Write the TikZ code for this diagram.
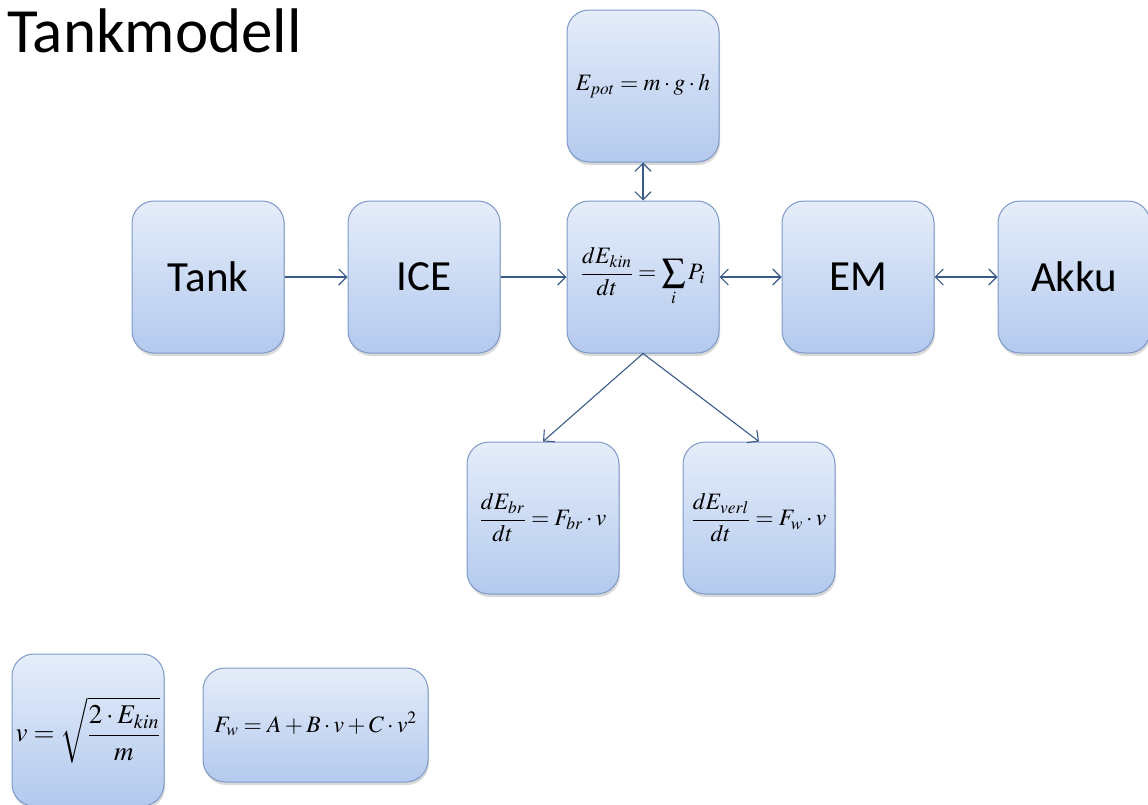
\documentclass[tikz,border=0pt]{standalone}
\usepackage{mathptmx}
\usepackage[no-math]{fontspec}
\setmainfont{Carlito}
\usetikzlibrary{arrows.meta,shadows}
\definecolor{boxtop}{HTML}{E5EDFA}
\definecolor{boxbot}{HTML}{B3C9EE}
\definecolor{boxline}{HTML}{7D9AC6}
\definecolor{arr}{HTML}{3A5A8A}
\tikzset{
  blk/.style={draw=boxline, line width=1pt, rounded corners=22pt,
    top color=boxtop, bottom color=boxbot,
    minimum width=152pt, minimum height=152pt, inner sep=0pt,
    drop shadow={shadow xshift=1pt, shadow yshift=-3pt, opacity=0.25, fill=black!60}},
  lbl/.style={font=\fontsize{43}{48}\selectfont},
  frm/.style={font=\fontsize{23.5}{28}\selectfont},
  con/.style={draw=arr, line width=1.1pt, -{Straight Barb[length=8pt,width=16pt]}},
  bicon/.style={draw=arr, line width=1.1pt, {Straight Barb[length=8pt,width=16pt]}-{Straight Barb[length=8pt,width=16pt]}}
}
\begin{document}
\begin{tikzpicture}[x=1pt,y=-1pt]
\useasboundingbox (0,0) rectangle (1148,804);
\node[anchor=base west, font=\fontsize{63}{66}\selectfont, inner sep=0pt] (title) at (7,52) {Tankmodell};

\node[blk, lbl] (tank) at (208,277) {Tank};
\node[blk, lbl] (ice) at (424,277) {ICE};
\node[blk, frm] (kin) at (643,277) {$\displaystyle\frac{dE_{kin}}{dt}=\sum\limits_i P_i$};
\node[blk, lbl] (em) at (858,277) {EM};
\node[blk, lbl] (akku) at (1074,277) {Akku};
\node[blk, frm] (pot) at (643,86) {$E_{pot}=m\cdot g\cdot h$};
\node[blk, frm] (br) at (543,518) {$\displaystyle\frac{dE_{br}}{dt}=F_{br}\cdot v$};
\node[blk, frm] (verl) at (759,518) {$\displaystyle\frac{dE_{verl}}{dt}=F_w\cdot v$};
\node[blk, font=\fontsize{27}{32}\selectfont] (vbox) at (88,730) {$\displaystyle v=\sqrt{\frac{2\cdot E_{kin}}{m}}$};
\node[blk, frm, minimum width=225pt, minimum height=114pt] (fw) at (315.5,725) {\raisebox{6pt}{$F_w=A+B\cdot v+C\cdot v^2$}};

\draw[con] (tank) -- (ice);
\draw[con] (ice) -- (kin);
\draw[bicon] (kin) -- (em);
\draw[bicon] (em) -- (akku);
\draw[bicon] (pot) -- (kin);
\draw[con] (kin.south) -- (br.north);
\draw[con] (kin.south) -- (verl.north);
\end{tikzpicture}
\end{document}
